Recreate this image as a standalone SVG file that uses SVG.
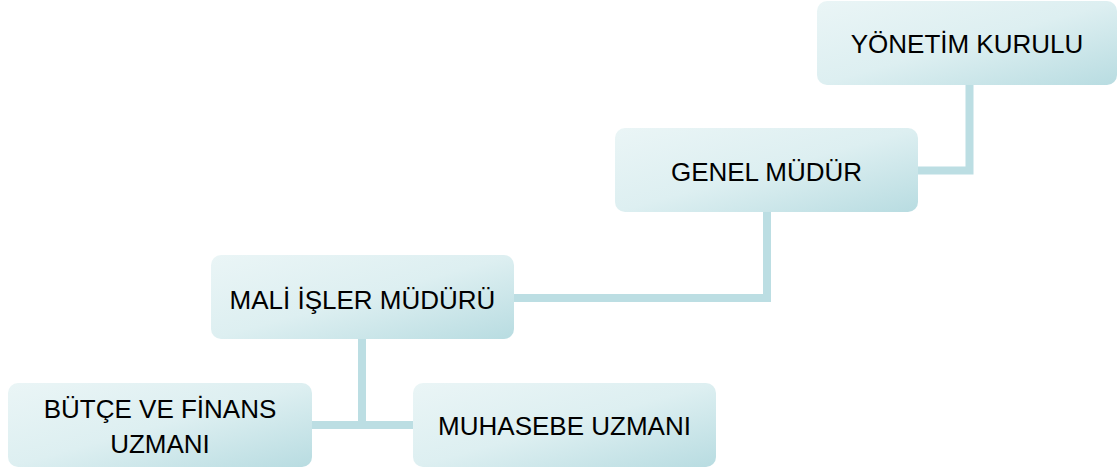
<svg xmlns="http://www.w3.org/2000/svg" width="1118" height="472" viewBox="0 0 1118 472">
  <defs>
    <linearGradient id="boxFill" x1="0" y1="0" x2="1" y2="1">
      <stop offset="0" stop-color="#eaf5f6"/>
      <stop offset="0.5" stop-color="#ddeff1"/>
      <stop offset="1" stop-color="#b8dce1"/>
    </linearGradient>
  </defs>
  <style>
    .box { fill: url(#boxFill); }
    .lbl { font-family: "Liberation Sans", Arial, sans-serif; font-size: 26px; fill: #000000; text-anchor: middle; }
    .conn { fill: none; stroke: #bcdee3; stroke-width: 8; stroke-linejoin: miter; }
  </style>
  <rect width="1118" height="472" fill="#ffffff"/>
  <g id="connectors">
    <path class="conn" d="M969.5 85 V170.5 H918"/>
    <path class="conn" d="M767 212 V298 H514"/>
    <path class="conn" d="M362 339 V425"/>
    <path class="conn" d="M312 425 H413"/>
  </g>
  <g id="node-yonetim">
    <rect class="box" x="817" y="1" width="300" height="84" rx="10"/>
    <text class="lbl" x="967" y="53">YÖNETİM KURULU</text>
  </g>
  <g id="node-genel">
    <rect class="box" x="615" y="128" width="303" height="84" rx="10"/>
    <text class="lbl" x="766.5" y="181">GENEL MÜDÜR</text>
  </g>
  <g id="node-mali">
    <rect class="box" x="211" y="255" width="303" height="84" rx="10"/>
    <text class="lbl" x="362.5" y="309">MALİ İŞLER MÜDÜRÜ</text>
  </g>
  <g id="node-butce">
    <rect class="box" x="8" y="383" width="304" height="84" rx="10"/>
    <text class="lbl" x="160" y="418">BÜTÇE VE FİNANS</text>
    <text class="lbl" x="160" y="453">UZMANI</text>
  </g>
  <g id="node-muhasebe">
    <rect class="box" x="413" y="383" width="303" height="84" rx="10"/>
    <text class="lbl" x="564.5" y="435">MUHASEBE UZMANI</text>
  </g>
</svg>
